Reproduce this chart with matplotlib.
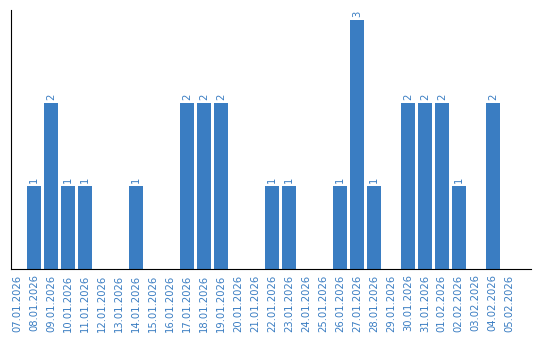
import numpy as np
import matplotlib
matplotlib.use("Agg")
import matplotlib.pyplot as plt

dates = ["07.01.2026", "08.01.2026", "09.01.2026", "10.01.2026", "11.01.2026",
         "12.01.2026", "13.01.2026", "14.01.2026", "15.01.2026", "16.01.2026",
         "17.01.2026", "18.01.2026", "19.01.2026", "20.01.2026", "21.01.2026",
         "22.01.2026", "23.01.2026", "24.01.2026", "25.01.2026", "26.01.2026",
         "27.01.2026", "28.01.2026", "29.01.2026", "30.01.2026", "31.01.2026",
         "01.02.2026", "02.02.2026", "03.02.2026", "04.02.2026", "05.02.2026"]
counts = [0, 1, 2, 1, 1, 0, 0, 1, 0, 0,
          2, 2, 2, 0, 0, 1, 1, 0, 0, 1,
          3, 1, 0, 2, 2, 2, 1, 0, 2, 0]

blue = "#3a7dc2"

fig = plt.figure(figsize=(5.4, 3.4), dpi=100)
ax = fig.add_axes([0.0204, 0.209, 0.963, 0.762])

x = np.arange(len(dates))
ax.bar(x, counts, width=0.82, color=blue)

# value labels above non-zero bars
for xi, c in zip(x, counts):
    if c > 0:
        ax.text(xi, c + 0.03, str(c), rotation=90, ha="center", va="bottom",
                color=blue, fontsize=7.2)

ax.set_xticks(x)
ax.set_xticklabels(dates, rotation=90, color=blue, fontsize=7.2)
ax.tick_params(axis="x", length=0, pad=4)
ax.set_yticks([])
ax.set_xlim(-0.35, 30.25)
ax.set_ylim(0, 3.12)
ax.spines["top"].set_visible(False)
ax.spines["right"].set_visible(False)

fig.savefig("out.png", dpi=100)
